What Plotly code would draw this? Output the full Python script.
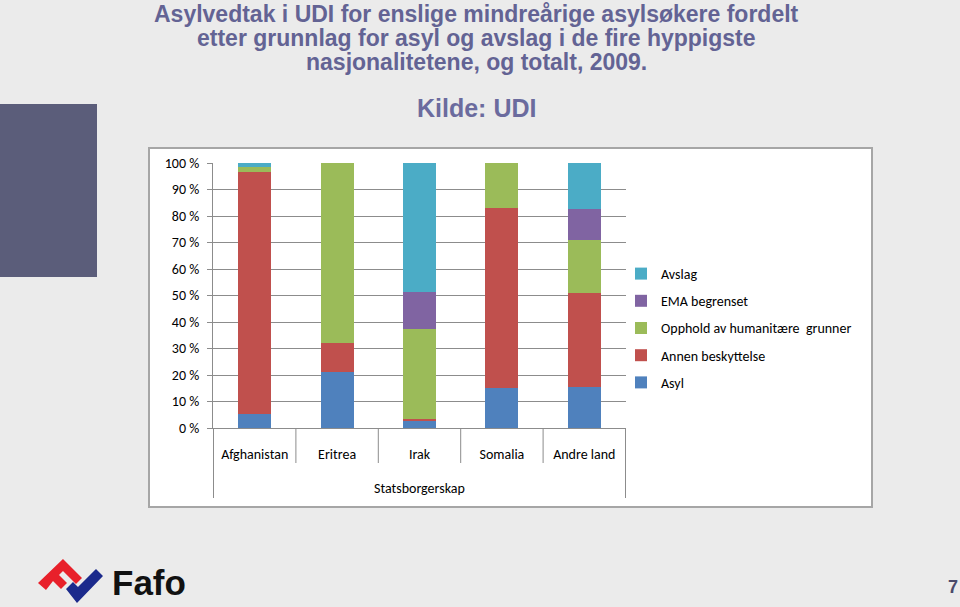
import plotly.graph_objects as go

# ---- data (percent shares) ----
categories = ["Afghanistan", "Eritrea", "Irak", "Somalia", "Andre land"]
group_label = "Statsborgerskap"
asyl = [5.3, 21.2, 2.8, 15.0, 15.6]
annen = [91.3, 10.8, 0.7, 68.1, 35.5]
opphold = [1.8, 68.0, 33.7, 16.9, 19.8]
ema = [0.0, 0.0, 14.2, 0.0, 11.6]
avslag = [1.6, 0.0, 48.6, 0.0, 17.5]
series_names = ["Asyl", "Annen beskyttelse", "Opphold av humanitære  grunner", "EMA begrenset", "Avslag"]
series_values = [asyl, annen, opphold, ema, avslag]
series_colors = ["#4F81BD", "#C0504D", "#9BBB59", "#8064A2", "#4BACC6"]
y_ticks = list(range(0, 101, 10))
y_ticktext = [f"{v} %" for v in y_ticks]

title_lines = [
    "Asylvedtak i UDI for enslige mindreårige asylsøkere fordelt",
    "etter grunnlag for asyl og avslag i de fire hyppigste",
    "nasjonalitetene, og totalt, 2009.",
]
source_text = "Kilde: UDI"

# ---- layout geometry (pixels) ----
W, H = 960, 607
L, R, T, B = 213, 626, 163, 428
PW, PH = R - L, B - T


def px(x):
    return (x - L) / PW


def py(y):
    return (B - y) / PH


FONT = "Carlito, Calibri, Lato, sans-serif"
TITLE_FONT = "Arial, Liberation Sans, sans-serif"
GRID = "#8C8C8C"

fig = go.Figure()
n = len(series_names)
for i, (name, vals, col) in enumerate(zip(series_names, series_values, series_colors)):
    fig.add_trace(go.Bar(
        x=categories, y=vals, name=name,
        marker=dict(color=col, line=dict(width=0)),
        legendgroup=name, legendrank=n - i,
    ))

shapes = [
    # chart frame
    dict(type="rect", xref="paper", yref="paper", x0=px(149), x1=px(872), y0=py(507), y1=py(148),
         fillcolor="white", line=dict(color="#A6A6A6", width=2), layer="below"),
    # left decorative block
    dict(type="rect", xref="paper", yref="paper", x0=px(0), x1=px(97), y0=py(277), y1=py(104),
         fillcolor="#5B5D7A", line=dict(width=0), layer="below"),
]

# category separators (inner level) and group dividers (outer level)
for i in range(len(categories) + 1):
    edge = i in (0, len(categories))
    shapes.append(dict(type="line", xref="x", yref="paper", x0=i - 0.5, x1=i - 0.5,
                       y0=0, y1=py(498 if edge else 463),
                       line=dict(color=GRID, width=1)))


def path(points):
    return "M " + " L ".join(f"{px(x):.5f},{py(y):.5f}" for x, y in points) + " Z"


red_pts = [(38, 583), (63, 559), (82, 578), (76, 584), (63, 571), (59, 575), (67, 583), (61, 589), (53, 581), (46, 590)]
blue_pts = [(66, 589), (73, 582), (78, 587), (96, 569), (103, 576), (77, 603)]
shapes.append(dict(type="path", xref="paper", yref="paper", path=path(red_pts),
                   fillcolor="#E8202A", line=dict(width=0), layer="above"))
shapes.append(dict(type="path", xref="paper", yref="paper", path=path(blue_pts),
                   fillcolor="#1B2A8C", line=dict(width=0), layer="above"))

annotations = []
for line, yc in zip(title_lines, [14, 38, 62]):
    annotations.append(dict(text=f"<b>{line}</b>", x=px(476), y=py(yc), xref="paper", yref="paper",
                            xanchor="center", yanchor="middle", showarrow=False,
                            font=dict(family=TITLE_FONT, size=23, color="#636394")))
annotations.append(dict(text=f"<b>{source_text}</b>", x=px(476), y=py(108), xref="paper", yref="paper",
                        xanchor="center", yanchor="middle", showarrow=False,
                        font=dict(family=TITLE_FONT, size=25, color="#6B6B9E")))
annotations.append(dict(text=group_label, x=0.5, y=py(488), xref="paper", yref="paper",
                        xanchor="center", yanchor="middle", showarrow=False,
                        font=dict(family=FONT, size=14, color="black")))
annotations.append(dict(text="<b>Fafo</b>", x=px(149), y=py(582), xref="paper", yref="paper",
                        xanchor="center", yanchor="middle", showarrow=False,
                        font=dict(family=TITLE_FONT, size=35, color="#111111")))
annotations.append(dict(text="<b>7</b>", x=px(953), y=py(587), xref="paper", yref="paper",
                        xanchor="center", yanchor="middle", showarrow=False,
                        font=dict(family=TITLE_FONT, size=18, color="#4A4A6A")))

fig.update_layout(
    width=W, height=H,
    margin=dict(l=L, r=W - R, t=T, b=H - B, autoexpand=False),
    paper_bgcolor="#EBEBEB",
    plot_bgcolor="white",
    barmode="stack",
    bargap=0.6,
    showlegend=True,
    legend=dict(x=px(621), y=py(258), xanchor="left", yanchor="top",
                traceorder="grouped", tracegroupgap=6, itemwidth=30,
                font=dict(family=FONT, size=14, color="black"), bgcolor="rgba(0,0,0,0)"),
    shapes=shapes,
    annotations=annotations,
    font=dict(family=FONT, size=14, color="black"),
)
fig.update_yaxes(
    range=[0, 100], tickmode="array", tickvals=y_ticks, ticktext=y_ticktext,
    showgrid=True, gridcolor=GRID, gridwidth=1,
    showline=True, linecolor=GRID, linewidth=1,
    ticks="outside", ticklen=5, tickcolor=GRID, ticklabelstandoff=5,
    tickfont=dict(family=FONT, size=14, color="black"), zeroline=False,
)
fig.update_xaxes(
    type="category",
    showline=True, linecolor=GRID, linewidth=1,
    ticks="", ticklabelstandoff=13,
    tickfont=dict(family=FONT, size=14, color="black"),
)

fig.write_html("out.html")
